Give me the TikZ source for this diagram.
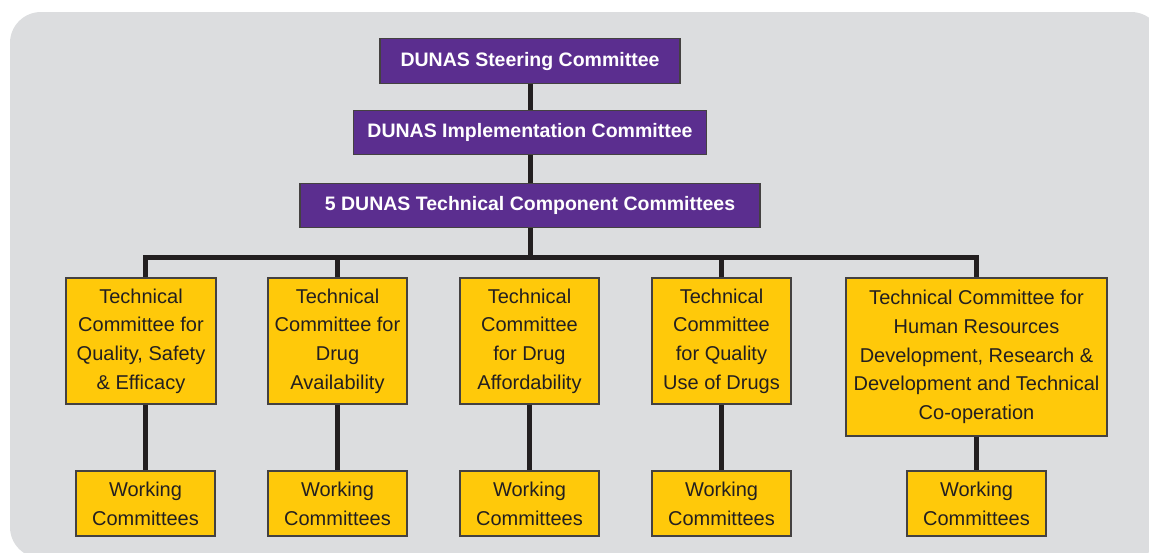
\documentclass[tikz,border=0pt]{standalone}
\usepackage{fontspec}
\setmainfont{Liberation Sans}
\definecolor{panelgray}{HTML}{DCDDDF}
\definecolor{dunaspurple}{HTML}{5B2E8F}
\definecolor{tcyellow}{HTML}{FFC90A}
\definecolor{inkdark}{HTML}{231F20}
\begin{document}
\begin{tikzpicture}[x=1pt,y=-1pt]
    \tikzset{
        board/.style={
            draw=inkdark!85,
            line width=1.2pt,
            fill=dunaspurple,
            text=white,
            inner sep=0pt,
            minimum height=44.5pt,
            font=\fontsize{19.5}{24}\selectfont\bfseries
        },
        tc/.style={
            draw=inkdark!85,
            line width=1.2pt,
            fill=tcyellow,
            text=inkdark,
            inner sep=0pt,
            align=center,
            font=\fontsize{20}{28.7}\selectfont
        },
        link/.style={draw=inkdark,line width=5pt}
    }

    \useasboundingbox (0,0) rectangle (1149,552);
    \fill[white] (0,0) rectangle (1149,552);
    \fill[panelgray,rounded corners=31pt] (10,12) rectangle (1162,558);

    \node[board,minimum width=300pt] (steer) at (530,61)
        {DUNAS Steering Committee};
    \node[board,minimum width=353pt] (impl) at (530,132.5)
        {DUNAS Implementation Committee};
    \node[board,minimum width=460pt] (tcc) at (530,205.5)
        {5 DUNAS Technical Component Committees};

    \node[tc,minimum width=150pt,minimum height=126pt] (q1) at (141,341)
        {Technical\\Committee for\\Quality, Safety\\\& Efficacy};
    \node[tc,minimum width=139pt,minimum height=126pt] (q2) at (337.5,341)
        {Technical\\Committee for\\Drug\\Availability};
    \node[tc,minimum width=139pt,minimum height=126pt] (q3) at (529.5,341)
        {Technical\\Committee\\for Drug\\Affordability};
    \node[tc,minimum width=139pt,minimum height=126pt] (q4) at (721.5,341)
        {Technical\\Committee\\for Quality\\Use of Drugs};
    \node[tc,minimum width=261pt,minimum height=158pt] (q5) at (976.5,357)
        {Technical Committee for\\Human Resources\\Development, Research \&\\Development and Technical\\Co-operation};

    \node[tc,minimum width=139pt,minimum height=65pt] (w1) at (145.5,503.5)
        {Working\\Committees};
    \node[tc,minimum width=139pt,minimum height=65pt] (w2) at (337.5,503.5)
        {Working\\Committees};
    \node[tc,minimum width=139pt,minimum height=65pt] (w3) at (529.5,503.5)
        {Working\\Committees};
    \node[tc,minimum width=139pt,minimum height=65pt] (w4) at (721.5,503.5)
        {Working\\Committees};
    \node[tc,minimum width=139pt,minimum height=65pt] (w5) at (976.5,503.5)
        {Working\\Committees};

    \coordinate (bus) at (530,257.5);

    \draw[link] (steer.south) -- (impl.north);
    \draw[link] (impl.south) -- (tcc.north);
    \draw[link] (tcc.south) -- (bus);
    \draw[link] (q1.north -| w1.north) |- (bus) -| (q5.north);
    \draw[link] (q2.north) -- (q2.north |- bus);
    \draw[link] (q4.north) -- (q4.north |- bus);

    \draw[link] (q1.south -| w1.north) -- (w1.north);
    \draw[link] (q2.south) -- (w2.north);
    \draw[link] (q3.south) -- (w3.north);
    \draw[link] (q4.south) -- (w4.north);
    \draw[link] (q5.south) -- (w5.north);
\end{tikzpicture}
\end{document}
